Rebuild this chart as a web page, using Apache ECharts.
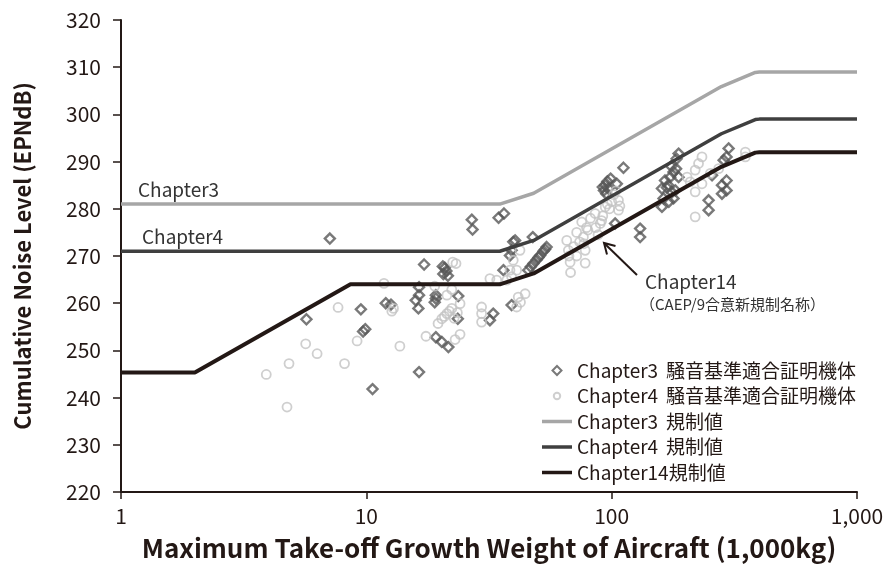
<!DOCTYPE html>
<html>
<head>
<meta charset="utf-8">
<script src="https://cdn.jsdelivr.net/npm/echarts@6/dist/echarts.min.js"></script>
<style>
    html, body { margin: 0; padding: 0; background: #fff; }
    #chart { width: 890px; height: 569px; }
</style>
</head>
<body>
<div id="chart"></div>
<script>
// 规制值折线 (weight 1,000kg -> EPNdB)
var limitWeights = [1, 35, 48.1, 280, 385, 400, 1000];
var chapter3Limit = [281, 281, 283.3, 305.9, 308.9, 309, 309];
var chapter4Limit = [271, 271, 273.3, 295.9, 298.9, 299, 299];
var ch14Weights = [1, 2, 8.618, 35, 48.1, 280, 385, 400, 1000];
var chapter14Limit = [245.3, 245.3, 264, 264, 266.3, 288.9, 291.9, 292, 292];

// 适合证明机体 [weight, level]
var chapter3Aircraft = [
    [7.1, 273.7], [5.7, 256.6], [9.5, 258.7], [9.7, 254.0], [9.9, 254.5], [10.6, 241.8],
    [12.0, 260.0], [12.6, 259.7], [26.9, 277.7], [27.1, 275.6], [34.6, 278.1], [36.4, 279.0],
    [17.2, 268.2], [20.9, 267.5], [21.2, 266.8], [20.6, 266.2], [20.5, 267.8], [21.5, 265.8],
    [16.4, 263.4], [16.4, 261.7],
    [15.9, 260.6], [16.3, 258.9], [19.2, 261.7], [19.2, 261.0], [19.0, 260.2], [23.7, 261.5],
    [23.6, 256.7], [19.2, 252.8], [20.3, 251.8], [21.6, 250.7], [32.9, 257.8], [31.9, 256.4],
    [39.1, 259.6], [39.7, 273.0], [38.5, 270.1], [36.2, 267.0], [16.4, 245.4],
    [111.7, 288.7], [94.1, 285.0], [93, 283.9], [92, 284.6], [96, 285.8], [105, 285.3],
    [97, 284.3], [99, 286.4], [95, 283.2],
    [103.3, 276.9], [40.4, 273.3], [47.7, 274.0], [54.3, 271.9], [51.1, 270.1], [48.0, 268.4],
    [45.7, 267.0], [52.7, 271.0], [49.5, 269.2], [39.1, 271.2], [46.8, 267.7], [50.3, 269.7],
    [53.5, 271.4],
    [187.4, 291.7], [184, 290.6], [178.7, 287.8], [173.3, 286.7], [187.4, 286.7], [160.3, 284.3],
    [181.7, 283.9], [162.7, 282.2], [178.7, 282.2], [160.3, 280.4], [170, 285.0], [175, 289.0],
    [168, 284.5], [176, 283.5], [183, 288.5], [165, 286.0], [171, 281.5],
    [299.7, 292.8], [294, 291.0], [286, 290.3], [294, 286.0], [281.6, 285.0], [294, 283.9],
    [281.6, 283.2], [248.4, 281.8], [248.4, 279.7], [130.6, 275.8], [130.6, 274.0], [256.6, 287.1]
];
var chapter4Aircraft = [
    [7.67, 259.1], [5.66, 251.4], [6.3, 249.3], [4.84, 247.2], [3.91, 244.9], [4.75, 238.0],
    [8.15, 247.2], [9.17, 252.0], [11.8, 264.2], [12.7, 258.3],
    [23.2, 268.4], [22.5, 268.7], [19.0, 263.6], [22.3, 262.9], [21.3, 261.7], [24.1, 259.9],
    [22.3, 258.9], [21.3, 257.8], [20.3, 256.7], [19.6, 255.7], [20.8, 257.2], [21.8, 258.3],
    [22.8, 256.8], [23.5, 258.0],
    [12.9, 258.9], [29.5, 259.2], [29.5, 257.8], [29.5, 256.0], [17.5, 253.0], [24.1, 253.4],
    [23.0, 252.3], [13.7, 250.9], [31.9, 265.2], [34.0, 264.9], [39.7, 269.1], [41.0, 267.0],
    [39.1, 265.6], [41.0, 259.2], [42.5, 260.2],
    [65.6, 273.3], [66.6, 271.2], [67.7, 268.7], [75.5, 277.2], [76.7, 274.0], [78, 271.2],
    [85.6, 279.0], [89.8, 276.9], [94.1, 280.4], [106.6, 281.8], [106.6, 279.7], [42.3, 271.2],
    [38.5, 267.0], [37.4, 264.9], [44.4, 262.0], [41.6, 261.3],
    [70, 272.0], [72, 275.0], [74, 273.0], [80, 275.5], [82, 278.0], [86, 276.0], [88, 274.5],
    [92, 278.5], [98, 280.0], [100, 281.5], [102, 283.0], [72, 270.0], [68, 266.5], [78, 268.5],
    [67, 270.0], [77, 272.6], [79, 276.0], [91, 277.5], [96, 281.0], [104, 283.8], [108, 280.6],
    [233.4, 291.0], [226, 289.6], [219, 288.2], [203, 286.7], [209, 285.7], [219, 283.6],
    [233.4, 285.3], [252.5, 287.5], [273, 288.5], [350.7, 292.0], [350.7, 291.0], [219, 278.3]
];

var yTicks = { min: 220, max: 320, interval: 10 };

function pairs(xs, ys) {
    return xs.map(function (x, i) { return [x, ys[i]]; });
}

(function () {
    var myChart = echarts.init(document.getElementById('chart'));
    var font = 'Noto Sans CJK JP';
    var ink = '#231815';
    var bar = 'path://M0,0L30,0L30,3.5L0,3.5Z';
    // 外侧的 M 点只用来把小圆缩小
    var dot = 'path://M-2,-2M12,12M5,0A5,5,0,1,1,5,10A5,5,0,1,1,5,0Z';

    var option = {
        animation: false,
        textStyle: { fontFamily: font },
        grid: { left: 121, right: 33, top: 20, bottom: 77 },
        legend: {
            orient: 'vertical',
            left: 537,
            top: 356,
            itemWidth: 30,
            itemHeight: 9,
            itemGap: 6.5,
            textStyle: {
                fontFamily: font,
                fontSize: 19,
                color: ink,
                rich: {
                    a: { width: 89, fontSize: 19, fontFamily: font, color: ink },
                    c: { fontSize: 19, fontFamily: font, color: ink },
                    j: { fontSize: 19, fontFamily: font, color: ink }
                }
            },
            formatter: function (name) {
                var p = name.split(' ');
                return (p[0] === 'Chapter14' ? '{c|' : '{a|') + p[0] + '}{j|' + p[1] + '}';
            },
            data: [
                { name: 'Chapter3 騒音基準適合証明機体', icon: 'path://M5,0L10,5L5,10L0,5Z' },
                { name: 'Chapter4 騒音基準適合証明機体', icon: dot },
                { name: 'Chapter3 規制値', icon: bar },
                { name: 'Chapter4 規制値', icon: bar },
                { name: 'Chapter14 規制値', icon: bar }
            ]
        },
        xAxis: {
            type: 'log',
            logBase: 10,
            min: 1,
            max: 1000,
            name: 'Maximum Take-off Growth Weight of Aircraft (1,000kg)',
            nameLocation: 'middle',
            nameGap: 43,
            nameTextStyle: { fontFamily: font, fontSize: 26, fontWeight: 'bold', color: ink },
            axisLine: { lineStyle: { color: ink, width: 2 } },
            axisTick: { show: true, length: 7, lineStyle: { color: ink, width: 1.5 } },
            minorTick: { show: false },
            splitLine: { show: false },
            axisLabel: {
                margin: 14,
                fontSize: 21,
                color: ink,
                formatter: function (v) { return Math.round(v).toLocaleString('en-US'); }
            }
        },
        yAxis: {
            type: 'value',
            min: yTicks.min,
            max: yTicks.max,
            interval: yTicks.interval,
            name: 'Cumulative Noise Level (EPNdB)',
            nameLocation: 'middle',
            nameGap: 87,
            nameTextStyle: { fontFamily: font, fontSize: 22, fontWeight: 'bold', color: ink },
            axisLine: { show: true, lineStyle: { color: ink, width: 2 } },
            axisTick: { show: true, length: 8, lineStyle: { color: ink, width: 1.5 } },
            splitLine: { show: false },
            axisLabel: { margin: 20, fontSize: 21, color: ink }
        },
        graphic: [
            { type: 'text', left: 138, top: 180, style: { text: 'Chapter3', fontFamily: font, fontSize: 19, fill: '#333' } },
            { type: 'text', left: 142, top: 227, style: { text: 'Chapter4', fontFamily: font, fontSize: 19, fill: '#333' } },
            { type: 'text', left: 645, top: 272, style: { text: 'Chapter14', fontFamily: font, fontSize: 19, fill: '#333' } },
            { type: 'text', left: 640, top: 297, style: { text: '（CAEP/9合意新規制名称）', fontFamily: font, fontSize: 15, fill: '#333' } },
            { type: 'line', shape: { x1: 637, y1: 275, x2: 605, y2: 244 }, style: { stroke: ink, lineWidth: 2 } },
            { type: 'polyline', shape: { points: [[607, 254.5], [604, 243], [615.5, 246]] }, style: { stroke: ink, lineWidth: 2, fill: null } }
        ],
        series: [
            {
                name: 'Chapter3 規制値',
                type: 'line',
                symbol: 'none',
                data: pairs(limitWeights, chapter3Limit),
                lineStyle: { color: '#a6a6a6', width: 3.5 },
                itemStyle: { color: '#a6a6a6' }
            },
            {
                name: 'Chapter4 規制値',
                type: 'line',
                symbol: 'none',
                data: pairs(limitWeights, chapter4Limit),
                lineStyle: { color: '#3f3f3f', width: 3.5 },
                itemStyle: { color: '#3f3f3f' }
            },
            {
                name: 'Chapter14 規制値',
                type: 'line',
                symbol: 'none',
                data: pairs(ch14Weights, chapter14Limit),
                lineStyle: { color: ink, width: 4 },
                itemStyle: { color: ink }
            },
            {
                name: 'Chapter3 騒音基準適合証明機体',
                type: 'scatter',
                symbol: 'diamond',
                symbolSize: 10,
                data: chapter3Aircraft,
                itemStyle: { color: 'transparent', borderColor: '#585858', borderWidth: 2.4 }
            },
            {
                name: 'Chapter4 騒音基準適合証明機体',
                type: 'scatter',
                symbol: 'circle',
                symbolSize: 9,
                data: chapter4Aircraft,
                itemStyle: { color: 'transparent', borderColor: '#c3c3c3', borderWidth: 1.8 }
            }
        ]
    };

    myChart.setOption(option);

    window.addEventListener('resize', function () {
        myChart.resize();
    });
})();
</script>
</body>
</html>
